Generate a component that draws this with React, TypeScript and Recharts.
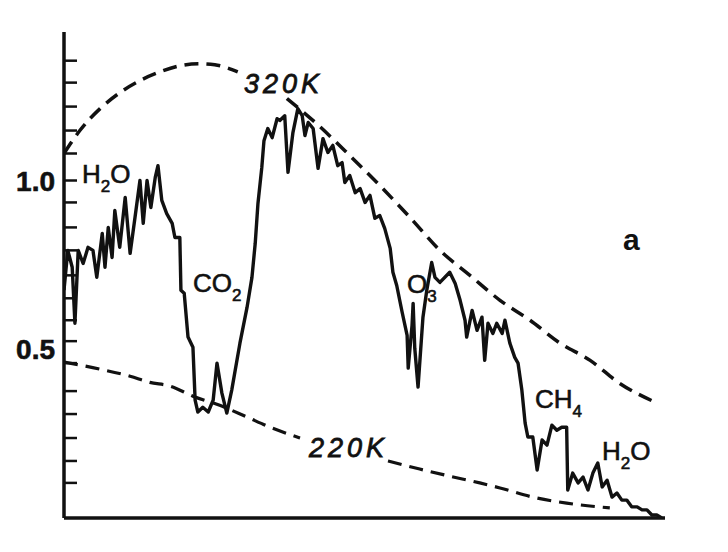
import React from "react";
import { LineChart, Line, XAxis, YAxis } from "recharts";

type Pt = { x: number; y: number | null };

// Outgoing spectrum (wavenumber, cm^-1 ; relative radiance)
const spectrum: Pt[] = [
  { x: 400, y: 0.675 }, { x: 407, y: 0.793 }, { x: 415, y: 0.743 }, { x: 420, y: 0.577 },
  { x: 426, y: 0.793 }, { x: 435, y: 0.754 }, { x: 444, y: 0.802 }, { x: 453, y: 0.793 },
  { x: 460, y: 0.713 }, { x: 470, y: 0.843 }, { x: 475, y: 0.743 }, { x: 481, y: 0.861 },
  { x: 488, y: 0.772 }, { x: 493, y: 0.911 }, { x: 502, y: 0.802 }, { x: 512, y: 0.95 },
  { x: 521, y: 0.784 }, { x: 530, y: 0.891 }, { x: 539, y: 1.0 }, { x: 545, y: 0.873 },
  { x: 552, y: 1.0 }, { x: 559, y: 0.92 }, { x: 567, y: 1.009 }, { x: 572, y: 1.044 },
  { x: 579, y: 0.941 }, { x: 588, y: 0.902 }, { x: 598, y: 0.873 }, { x: 603, y: 0.831 },
  { x: 612, y: 0.831 }, { x: 614, y: 0.675 }, { x: 620, y: 0.666 }, { x: 627, y: 0.536 },
  { x: 636, y: 0.506 }, { x: 640, y: 0.349 }, { x: 645, y: 0.314 }, { x: 654, y: 0.328 },
  { x: 664, y: 0.314 }, { x: 673, y: 0.349 }, { x: 680, y: 0.459 }, { x: 689, y: 0.37 },
  { x: 698, y: 0.311 }, { x: 707, y: 0.379 }, { x: 722, y: 0.518 }, { x: 735, y: 0.624 },
  { x: 744, y: 0.713 }, { x: 750, y: 0.814 }, { x: 755, y: 0.932 }, { x: 762, y: 1.038 },
  { x: 766, y: 1.118 }, { x: 773, y: 1.154 }, { x: 781, y: 1.127 }, { x: 790, y: 1.183 },
  { x: 795, y: 1.178 }, { x: 804, y: 1.192 }, { x: 810, y: 1.024 }, { x: 819, y: 1.142 },
  { x: 828, y: 1.213 }, { x: 836, y: 1.192 }, { x: 841, y: 1.133 }, { x: 847, y: 1.172 },
  { x: 856, y: 1.154 }, { x: 865, y: 1.036 }, { x: 874, y: 1.124 }, { x: 883, y: 1.083 },
  { x: 892, y: 1.104 }, { x: 901, y: 1.044 }, { x: 909, y: 1.053 }, { x: 914, y: 0.994 },
  { x: 923, y: 1.015 }, { x: 933, y: 0.964 }, { x: 942, y: 0.976 }, { x: 951, y: 0.935 },
  { x: 960, y: 0.956 }, { x: 969, y: 0.888 }, { x: 978, y: 0.896 }, { x: 987, y: 0.858 },
  { x: 997, y: 0.799 }, { x: 1002, y: 0.728 }, { x: 1009, y: 0.689 }, { x: 1019, y: 0.609 },
  { x: 1028, y: 0.541 }, { x: 1030, y: 0.444 }, { x: 1037, y: 0.571 }, { x: 1039, y: 0.636 },
  { x: 1042, y: 0.503 }, { x: 1048, y: 0.388 }, { x: 1057, y: 0.595 }, { x: 1064, y: 0.675 },
  { x: 1073, y: 0.757 }, { x: 1079, y: 0.713 }, { x: 1088, y: 0.698 }, { x: 1106, y: 0.728 },
  { x: 1116, y: 0.695 }, { x: 1125, y: 0.645 }, { x: 1134, y: 0.586 }, { x: 1137, y: 0.536 },
  { x: 1147, y: 0.615 }, { x: 1156, y: 0.556 }, { x: 1165, y: 0.595 }, { x: 1170, y: 0.467 },
  { x: 1176, y: 0.577 }, { x: 1185, y: 0.547 }, { x: 1192, y: 0.577 }, { x: 1202, y: 0.547 },
  { x: 1207, y: 0.586 }, { x: 1216, y: 0.518 }, { x: 1225, y: 0.476 }, { x: 1231, y: 0.459 },
  { x: 1238, y: 0.379 }, { x: 1244, y: 0.281 }, { x: 1249, y: 0.24 }, { x: 1258, y: 0.24 },
  { x: 1266, y: 0.142 }, { x: 1275, y: 0.231 }, { x: 1284, y: 0.216 }, { x: 1293, y: 0.275 },
  { x: 1302, y: 0.26 }, { x: 1311, y: 0.269 }, { x: 1320, y: 0.269 }, { x: 1322, y: 0.083 },
  { x: 1331, y: 0.133 }, { x: 1341, y: 0.104 }, { x: 1350, y: 0.121 }, { x: 1359, y: 0.083 },
  { x: 1368, y: 0.133 }, { x: 1377, y: 0.163 }, { x: 1385, y: 0.092 }, { x: 1394, y: 0.112 },
  { x: 1403, y: 0.062 }, { x: 1412, y: 0.074 }, { x: 1421, y: 0.053 }, { x: 1430, y: 0.053 },
  { x: 1439, y: 0.033 }, { x: 1449, y: 0.033 }, { x: 1458, y: 0.024 }, { x: 1467, y: 0.024 },
  { x: 1476, y: 0.009 }, { x: 1485, y: 0.009 }, { x: 1494, y: 0.0 },
];

// Blackbody curve, 320 K (gap where the label sits)
const planck320: Pt[] = [
  { x: 400, y: 1.08 }, { x: 429, y: 1.148 }, { x: 466, y: 1.213 }, { x: 502, y: 1.26 },
  { x: 539, y: 1.296 }, { x: 576, y: 1.322 }, { x: 612, y: 1.34 }, { x: 649, y: 1.346 },
  { x: 676, y: 1.343 }, { x: 718, y: 1.322 }, { x: 760, y: null }, { x: 808, y: 1.243 },
  { x: 868, y: 1.16 }, { x: 923, y: 1.074 }, { x: 978, y: 0.985 }, { x: 1033, y: 0.891 },
  { x: 1088, y: 0.793 }, { x: 1143, y: 0.719 }, { x: 1198, y: 0.645 }, { x: 1253, y: 0.586 },
  { x: 1308, y: 0.518 }, { x: 1363, y: 0.467 }, { x: 1417, y: 0.399 }, { x: 1482, y: 0.343 },
];

// Blackbody curve, 220 K (gap where the label sits)
const planck220: Pt[] = [
  { x: 400, y: 0.462 }, { x: 466, y: 0.441 }, { x: 521, y: 0.42 }, { x: 557, y: 0.402 },
  { x: 594, y: 0.391 }, { x: 636, y: 0.361 }, { x: 685, y: 0.334 }, { x: 735, y: 0.299 },
  { x: 777, y: 0.269 }, { x: 832, y: 0.237 }, { x: 900, y: null }, { x: 993, y: 0.169 },
  { x: 1051, y: 0.145 }, { x: 1106, y: 0.124 }, { x: 1161, y: 0.104 }, { x: 1198, y: 0.089 },
  { x: 1258, y: 0.062 }, { x: 1320, y: 0.044 }, { x: 1399, y: 0.03 },
];

const yMinorTicks = [
  1.355, 1.29, 1.219, 1.148, 1.08, 1.0, 0.935, 0.861, 0.793, 0.719, 0.651, 0.586,
  0.524, 0.459, 0.376, 0.308, 0.237, 0.169, 0.104,
];
const yTickLabels = [1.0, 0.5];
const yAllTicks = [...yMinorTicks, 0.5];

const FONT = "'Liberation Sans', Arial, sans-serif";

const YTick = (props: any) => {
  const { x, y, payload } = props;
  const v = payload.value as number;
  const isMinor = yMinorTicks.includes(v);
  const isLabel = yTickLabels.includes(v);
  return (
    <g>
      {isMinor && <line x1={x} y1={y} x2={x + 13} y2={y} stroke="#111" strokeWidth={2.5} />}
      {isLabel && (
        <text
          x={x - 9}
          y={y + 10}
          textAnchor="end"
          fontFamily={FONT}
          fontWeight="bold"
          fontSize={28}
          fill="#111"
          stroke="#111"
          strokeWidth={0.6}
        >
          {v.toFixed(1)}
        </text>
      )}
    </g>
  );
};

const Chem = ({ x, y, a, sub, b }: { x: number; y: number; a: string; sub: string; b?: string }) => (
  <text x={x} y={y} fontFamily={FONT} fontSize={26} fill="#111" stroke="#111" strokeWidth={0.6}>
    {a}
    <tspan fontSize={17} dy={9}>{sub}</tspan>
    {b ? <tspan dy={-9}>{b}</tspan> : null}
  </text>
);

export default function App() {
  return (
    <div style={{ position: "relative", width: 720, height: 536, background: "#fff" }}>
      <LineChart width={720} height={536} margin={{ top: 24, right: 63, left: 0, bottom: 25 }}>
        <XAxis
          dataKey="x"
          type="number"
          domain={[400, 1500]}
          allowDataOverflow
          tick={false}
          tickLine={false}
          height={1}
          axisLine={{ stroke: "#111", strokeWidth: 3.5 }}
        />
        <YAxis
          type="number"
          domain={[0, 1.44]}
          allowDataOverflow
          width={56}
          ticks={yAllTicks}
          interval={0}
          tickSize={0}
          tickMargin={0}
          tickLine={false}
          tick={<YTick />}
          axisLine={{ stroke: "#111", strokeWidth: 3.5 }}
        />
        <Line
          data={planck320}
          dataKey="y"
          type="monotone"
          stroke="#111"
          strokeWidth={3.5}
          strokeDasharray="14 8"
          dot={false}
          isAnimationActive={false}
        />
        <Line
          data={planck220}
          dataKey="y"
          type="monotone"
          stroke="#111"
          strokeWidth={3.2}
          strokeDasharray="14 8"
          dot={false}
          isAnimationActive={false}
        />
        <Line
          data={spectrum}
          dataKey="y"
          type="linear"
          stroke="#111"
          strokeWidth={3.4}
          strokeLinejoin="round"
          dot={false}
          isAnimationActive={false}
        />
      </LineChart>
      <svg width={720} height={536} style={{ position: "absolute", left: 0, top: 0, pointerEvents: "none" }}>
        <Chem x={74} y={175} a="H" sub="2" b="O" />
        <Chem x={185} y={284} a="CO" sub="2" />
        <Chem x={399} y={285} a="O" sub="3" />
        <Chem x={527} y={400} a="CH" sub="4" />
        <Chem x={594} y={452} a="H" sub="2" b="O" />
        <text x={236} y={85} fontFamily={FONT} fontStyle="italic" fontSize={27} letterSpacing={4} fill="#111" stroke="#111" strokeWidth={0.8}>
          320K
        </text>
        <text x={301} y={449} fontFamily={FONT} fontStyle="italic" fontSize={27} letterSpacing={4} fill="#111" stroke="#111" strokeWidth={0.8}>
          220K
        </text>
        <text x={615} y={242} fontFamily={FONT} fontWeight="bold" fontSize={30} fill="#111">
          a
        </text>
      </svg>
    </div>
  );
}
